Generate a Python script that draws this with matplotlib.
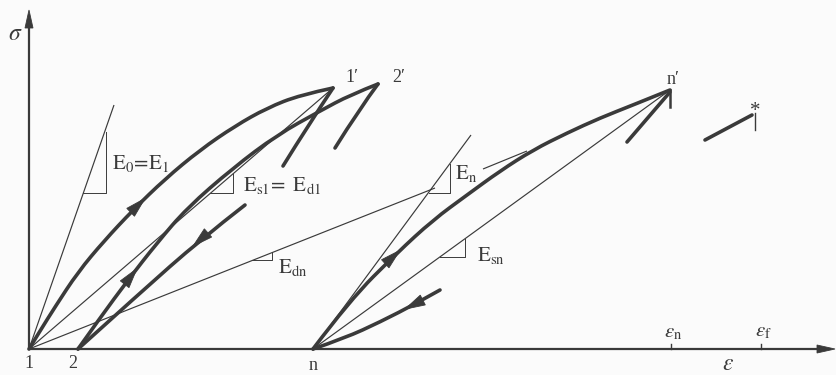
import matplotlib
matplotlib.use("Agg")
import matplotlib.pyplot as plt
from matplotlib.patches import Polygon, PathPatch
from matplotlib.path import Path
import numpy as np

plt.rcParams["font.family"] = ["Liberation Serif", "DejaVu Serif"]
plt.rcParams["mathtext.fontset"] = "stix"

INK = "#3a3a3a"
THICK = 2.6
THIN = 0.85

# ---- cyclic stress-strain paths (strain, stress) -------------------------
# first loading 1 -> 1'
load1_eps = [0, 11, 26, 49, 75, 104, 136, 171, 206, 238, 271, 304]
load1_sig = [0, 18, 42, 77, 108, 139, 170, 199, 223, 241, 254, 261]
# unloading 1' -> 2 (upper and lower pieces)
unl1a_eps = [304, 280, 254]
unl1a_sig = [261, 225, 183]
unl1b_eps = [216, 171, 111, 49]
unl1b_sig = [144, 109, 56, 0]
# reloading 2 -> 2'
load2_eps = [49, 71, 99, 128, 158, 204, 248, 291, 321, 349]
load2_sig = [0, 31, 69, 106, 141, 181, 214, 238, 254, 265]
# unloading from 2'
unl2_eps = [349, 331, 306]
unl2_sig = [265, 241, 201]
# n-th loading n -> n'
loadn_eps = [284, 321, 368, 404, 438, 471, 504, 538, 571, 604, 641]
loadn_sig = [0, 49, 96, 129, 154, 178, 199, 216, 231, 244, 259]
# unloading n' -> n (upper and lower pieces)
unlna_eps = [641, 598]
unlna_sig = [257, 207]
unlnb_eps = [411, 388, 351, 316, 284]
unlnb_sig = [59, 46, 27, 11, 0]
# path towards failure
fail_eps = [676, 723]
fail_sig = [209, 234]

# ---- moduli (straight reference lines) -----------------------------------
e0_eps, e0_sig = [0, 85], [0, 244]
es1_eps, es1_sig = [0, 304], [0, 261]
edn_eps, edn_sig = [0, 406], [0, 161]
edn2_eps, edn2_sig = [454, 498], [180, 198]
en_eps, en_sig = [284, 442], [0, 214]
esn_eps, esn_sig = [284, 641], [0, 259]

# slope triangles: (x_left, x_right, y_bottom, y_top)
triangles = [
    (54, 77, 156, 217),
    (181, 204, 156, 175),
    (223, 243, 89, 97),
    (400, 421, 156, 185),
    (411, 436, 92, 110),
]

# strain markers on the axis
eps_n, eps_f = 642, 732

fig = plt.figure(figsize=(8.37, 3.75), dpi=100, facecolor="#fbfbfb")
ax = fig.add_axes([0, 0, 1, 1])
ax.set_facecolor("#fbfbfb")
ax.set_xlim(-29, 808)
ax.set_ylim(-26, 349)
ax.axis("off")


def smooth_curve(xs, ys, lw=THICK):
    """Quadratic B-spline style path: inner points act as control points."""
    pts = np.column_stack([xs, ys]).astype(float)
    if len(pts) < 3:
        verts, codes = pts, [Path.MOVETO, Path.LINETO]
    else:
        verts = [pts[0]]
        codes = [Path.MOVETO]
        mids = (pts[1:-2] + pts[2:-1]) / 2.0
        for k in range(1, len(pts) - 1):
            end = mids[k - 1] if k < len(pts) - 2 else pts[-1]
            verts += [pts[k], end]
            codes += [Path.CURVE3, Path.CURVE3]
    ax.add_patch(PathPatch(Path(verts, codes), fc="none", ec=INK, lw=lw,
                           capstyle="round", joinstyle="round", zorder=4))


def head(tip, direction, length=20, half=5.5):
    d = np.asarray(direction, float)
    d /= np.hypot(*d)
    nrm = np.array([-d[1], d[0]])
    tip = np.asarray(tip, float)
    base = tip - length * d
    ax.add_patch(Polygon([tip, base + half * nrm, base - half * nrm],
                         closed=True, fc=INK, ec=INK, lw=0.6, zorder=5))


def head_on(xs, ys, x_tip, **kw):
    # arrowhead sitting on a path, pointing in the direction of travel
    for i in range(len(xs) - 1):
        a, b = xs[i], xs[i + 1]
        if min(a, b) <= x_tip <= max(a, b):
            t = (x_tip - a) / (b - a)
            y = ys[i] + t * (ys[i + 1] - ys[i])
            head((x_tip, y), (b - a, ys[i + 1] - ys[i]), **kw)
            return


# axes
ax.plot([0, 0], [0, 325], color=INK, lw=1.6)
head((0, 339), (0, 1), length=18, half=4)
ax.plot([0, 790], [0, 0], color=INK, lw=1.6)
head((806, 0), (1, 0), length=18, half=4)
for e in (eps_n, eps_f):
    ax.plot([e, e], [0, 5], color=INK, lw=1.0)

# thin modulus lines
for xs, ys in [(e0_eps, e0_sig), (es1_eps, es1_sig), (edn_eps, edn_sig),
               (edn2_eps, edn2_sig), (en_eps, en_sig), (esn_eps, esn_sig)]:
    ax.plot(xs, ys, color=INK, lw=THIN, solid_capstyle="butt")

for xl, xr, yb, yt in triangles:
    ax.plot([xl, xr, xr], [yb, yb, yt], color=INK, lw=0.7)

# thick loading / unloading paths
for xs, ys in [(load1_eps, load1_sig), (unl1a_eps, unl1a_sig),
               (unl1b_eps, unl1b_sig), (load2_eps, load2_sig),
               (unl2_eps, unl2_sig), (loadn_eps, loadn_sig),
               (unlna_eps, unlna_sig), (unlnb_eps, unlnb_sig),
               (fail_eps, fail_sig)]:
    smooth_curve(xs, ys)

# direction arrows
head_on(load1_eps, load1_sig, 116)
head_on(load2_eps, load2_sig, 108)
head_on(unl1b_eps, unl1b_sig, 164)
head_on(loadn_eps, loadn_sig, 371)
head_on(unlnb_eps, unlnb_sig, 376)

# peak tick at n' and failure marker
ax.plot([loadn_eps[-1], loadn_eps[-1]], [loadn_sig[-1], loadn_sig[-1] - 17],
        color=INK, lw=1.8)
ax.plot([726, 726], [236, 219], color=INK, lw=1.0)
ax.text(726, 238, "*", fontsize=15, color=INK, ha="center", va="center")

# labels
txt = dict(color=INK)
ax.text(-14, 314, r"$\sigma$", fontsize=17, ha="center", va="center", **txt)
ax.text(699, -15, r"$\varepsilon$", fontsize=17, ha="center", va="center", **txt)
ax.text(0, -15, "1", fontsize=13, ha="center", va="center", **txt)
ax.text(44, -15, "2", fontsize=13, ha="center", va="center", **txt)
ax.text(284, -17, "n", fontsize=13, ha="center", va="center", **txt)
ax.text(316, 271, "1\u2032", fontsize=13, ha="left", va="center", **txt)
ax.text(363, 271, "2\u2032", fontsize=13, ha="left", va="center", **txt)
ax.text(644, 269, "n\u2032", fontsize=13, ha="center", va="center", **txt)
ax.text(eps_n + 2, 16, r"$\varepsilon_\mathrm{n}$", fontsize=15,
        ha="center", va="center", **txt)
ax.text(eps_f + 2, 17, r"$\varepsilon_\mathrm{f}$", fontsize=15,
        ha="center", va="center", **txt)

ax.text(83, 186, r"$\mathrm{E_0\!=\!E_1}$", fontsize=15, ha="left",
        va="center", **txt)
ax.text(214, 164, r"$\mathrm{E_{s1}\!=\ E_{d1}}$", fontsize=15, ha="left",
        va="center", **txt)
ax.text(249, 81, r"$\mathrm{E_{dn}}$", fontsize=15, ha="left", va="center",
        **txt)
ax.text(426, 176, r"$\mathrm{E_n}$", fontsize=15, ha="left", va="center",
        **txt)
ax.text(448, 94, r"$\mathrm{E_{sn}}$", fontsize=15, ha="left", va="center",
        **txt)

fig.savefig("out.png", dpi=100, facecolor=fig.get_facecolor())
